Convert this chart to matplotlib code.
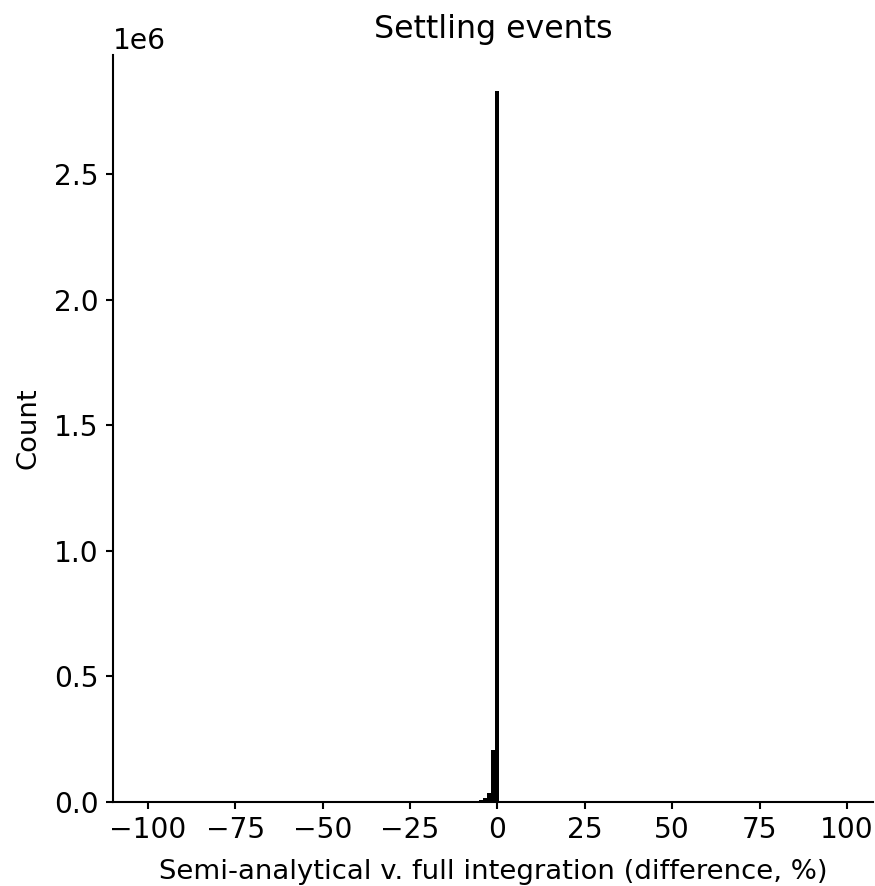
import matplotlib
matplotlib.use("Agg")
import matplotlib.pyplot as plt

# histogram bins (left edges, %) and counts
bin_left = [-5.3, -4.15, -3.0, -1.85, -0.7]
bin_width = 1.15
counts = [7000, 15000, 37000, 207000, 2830000]

fig = plt.figure(figsize=(875 / 150, 886 / 150), dpi=150)
ax = fig.add_axes([0.129, 0.095, 0.869, 0.843])

ax.bar(bin_left, counts, width=bin_width, align="edge", color="black")
ax.set_xlim(-110, 107.5)
ax.set_ylim(0, 2.975e6)
ax.set_xticks([-100, -75, -50, -25, 0, 25, 50, 75, 100])
ax.set_yticks([0, 0.5e6, 1.0e6, 1.5e6, 2.0e6, 2.5e6])
ax.tick_params(labelsize=13.5, width=1.0)
ax.yaxis.get_offset_text().set_fontsize(13.5)

for s in ["left", "bottom"]:
    ax.spines[s].set_linewidth(1.0)
ax.spines["top"].set_visible(False)
ax.spines["right"].set_visible(False)

ax.set_title("Settling events", fontsize=15.2, pad=8)
ax.set_xlabel("Semi-analytical v. full integration (difference, %)", fontsize=13.2, labelpad=7)
ax.set_ylabel("Count", fontsize=13.2, labelpad=6)

fig.savefig("out.png", dpi=150)
